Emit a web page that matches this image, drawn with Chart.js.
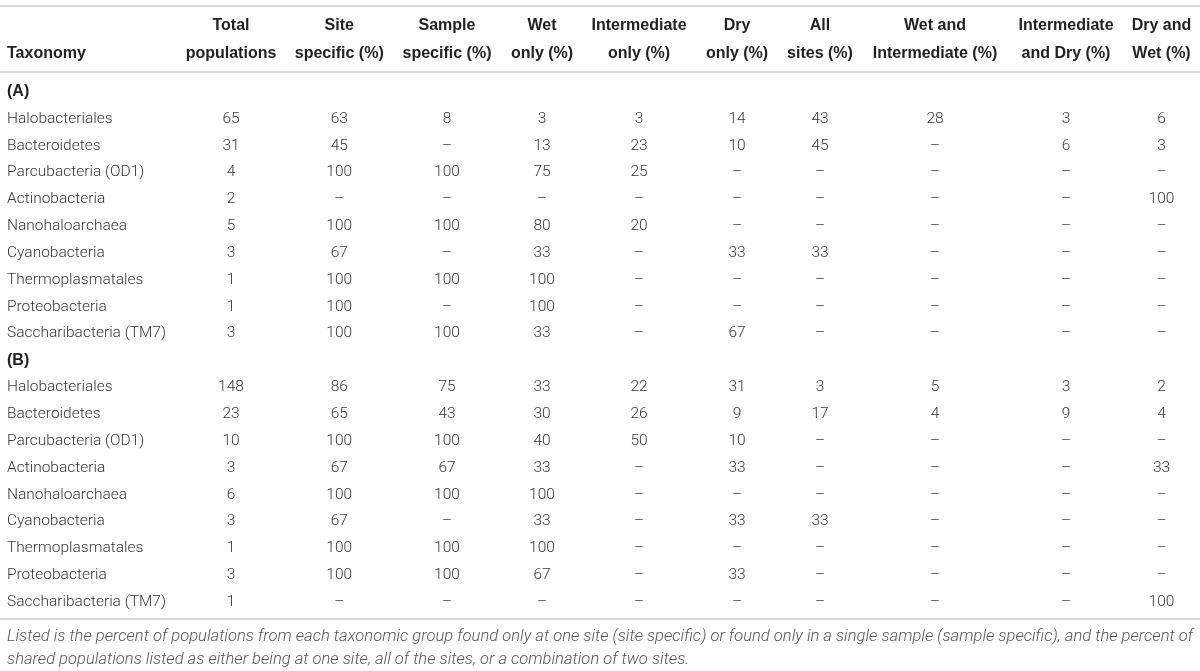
<!DOCTYPE html>
<html>
<head>
<meta charset="utf-8">
<style>
  html, body { margin: 0; padding: 0; background: #fff; }
  .wrap { position: relative; width: 1200px; height: 671px; }
</style>
</head>
<body>
<div class="wrap"><canvas id="tbl"></canvas></div>
<script src="https://cdn.jsdelivr.net/npm/chart.js"></script>
<script>
  // table content
  const groups = ['(A)', '(B)'];
  const taxa = ['Halobacteriales', 'Bacteroidetes', 'Parcubacteria (OD1)', 'Actinobacteria',
    'Nanohaloarchaea', 'Cyanobacteria', 'Thermoplasmatales', 'Proteobacteria', 'Saccharibacteria (TM7)'];
  const headers = [
    ['', 'Taxonomy'], ['Total', 'populations'], ['Site', 'specific (%)'], ['Sample', 'specific (%)'],
    ['Wet', 'only (%)'], ['Intermediate', 'only (%)'], ['Dry', 'only (%)'], ['All', 'sites (%)'],
    ['Wet and', 'Intermediate (%)'], ['Intermediate', 'and Dry (%)'], ['Dry and', 'Wet (%)']
  ];
  // null = "–"
  const totalA   = [65, 31, 4, 2, 5, 3, 1, 1, 3];
  const siteA    = [63, 45, 100, null, 100, 67, 100, 100, 100];
  const sampleA  = [8, null, 100, null, 100, null, 100, null, 100];
  const wetA     = [3, 13, 75, null, 80, 33, 100, 100, 33];
  const interA   = [3, 23, 25, null, 20, null, null, null, null];
  const dryA     = [14, 10, null, null, null, 33, null, null, 67];
  const allA     = [43, 45, null, null, null, 33, null, null, null];
  const wetIntA  = [28, null, null, null, null, null, null, null, null];
  const intDryA  = [3, 6, null, null, null, null, null, null, null];
  const dryWetA  = [6, 3, null, 100, null, null, null, null, null];

  const totalB   = [148, 23, 10, 3, 6, 3, 1, 3, 1];
  const siteB    = [86, 65, 100, 67, 100, 67, 100, 100, null];
  const sampleB  = [75, 43, 100, 67, 100, null, 100, 100, null];
  const wetB     = [33, 30, 40, 33, 100, 33, 100, 67, null];
  const interB   = [22, 26, 50, null, null, null, null, null, null];
  const dryB     = [31, 9, 10, 33, null, 33, null, 33, null];
  const allB     = [3, 17, null, null, null, 33, null, null, null];
  const wetIntB  = [5, 4, null, null, null, null, null, null, null];
  const intDryB  = [3, 9, null, null, null, null, null, null, null];
  const dryWetB  = [2, 4, null, 33, null, null, null, null, 100];

  const captionLines = [
    'Listed is the percent of populations from each taxonomic group found only at one site (site specific) or found only in a single sample (sample specific), and the percent of',
    'shared populations listed as either being at one site, all of the sites, or a combination of two sites.'
  ];

  const colsA = [totalA, siteA, sampleA, wetA, interA, dryA, allA, wetIntA, intDryA, dryWetA];
  const colsB = [totalB, siteB, sampleB, wetB, interB, dryB, allB, wetIntB, intDryB, dryWetB];

  // layout
  const colWidths = [176.5, 109, 107.5, 108, 82, 112, 84, 82, 148, 114, 77];
  const colLeft = [];
  colWidths.reduce((acc, w) => { colLeft.push(acc); return acc + w; }, 0);
  const colCenter = colLeft.map((l, i) => l + colWidths[i] / 2);
  const tableWidth = colWidths.reduce((a, b) => a + b, 0);

  const bodyFont = '300 15.5px Roboto';
  const boldFont = 'bold 16px "Liberation Sans"';
  const textColor = '#363636';
  const lineColor = '#d9d9d9';

  // rows: group label then taxa
  const rows = [];
  groups.forEach((g, gi) => {
    rows.push({ label: g, group: true });
    taxa.forEach((t, ti) => rows.push({ label: t, gi: gi, ti: ti }));
  });

  const datasets = colsA.map((colA, c) => {
    const pts = [];
    rows.forEach((r, i) => {
      if (r.group) return;
      const src = r.gi === 0 ? colsA[c] : colsB[c];
      pts.push({ x: colCenter[c + 1], y: i, v: src[r.ti] });
    });
    return { label: headers[c + 1].join(' '), data: pts, pointRadius: 0, showLine: false };
  });

  const tablePlugin = {
    id: 'tableText',
    afterDatasetsDraw(chart) {
      const ctx = chart.ctx;
      const xs = chart.scales.x, ys = chart.scales.y;
      ctx.save();
      ctx.textBaseline = 'middle';

      // rules
      ctx.strokeStyle = lineColor;
      ctx.lineWidth = 2;
      [-3.2, -0.745, 19.63].forEach(v => {
        const y = Math.round(ys.getPixelForValue(v));
        ctx.beginPath();
        ctx.moveTo(xs.getPixelForValue(0), y);
        ctx.lineTo(xs.getPixelForValue(tableWidth), y);
        ctx.stroke();
      });

      // header
      ctx.font = boldFont;
      ctx.fillStyle = '#222';
      headers.forEach((h, c) => {
        ctx.textAlign = c === 0 ? 'left' : 'center';
        const x = c === 0 ? xs.getPixelForValue(colLeft[0] + 7) : xs.getPixelForValue(colCenter[c]);
        if (h[0]) ctx.fillText(h[0], x, ys.getPixelForValue(-2.46));
        ctx.fillText(h[1], x, ys.getPixelForValue(-1.45));
      });

      // row labels
      rows.forEach((r, i) => {
        ctx.textAlign = 'left';
        ctx.font = r.group ? boldFont : bodyFont;
        ctx.fillStyle = r.group ? '#222' : textColor;
        ctx.fillText(r.label, xs.getPixelForValue(colLeft[0] + 7), ys.getPixelForValue(i));
      });

      // cells from dataset elements
      ctx.font = bodyFont;
      ctx.fillStyle = textColor;
      ctx.textAlign = 'center';
      chart.data.datasets.forEach((ds, di) => {
        const meta = chart.getDatasetMeta(di);
        meta.data.forEach((el, k) => {
          const v = ds.data[k].v;
          ctx.fillText(v === null ? '\u2013' : String(v), el.x, el.y);
        });
      });

      // caption
      const target = tableWidth - 14;
      ctx.textAlign = 'left';
      let size = 15;
      ctx.font = 'italic 300 ' + size + 'px Roboto';
      const w = ctx.measureText(captionLines[0]).width;
      size = size * target / w;
      ctx.font = 'italic 300 ' + size.toFixed(2) + 'px Roboto';
      ctx.fillStyle = '#555';
      captionLines.forEach((line, i) => {
        ctx.fillText(line, xs.getPixelForValue(7), ys.getPixelForValue(20.3 + i * 0.86));
      });
      ctx.restore();
    }
  };

  new Chart(document.getElementById('tbl'), {
    type: 'scatter',
    data: { datasets: datasets },
    plugins: [tablePlugin],
    options: {
      responsive: true,
      maintainAspectRatio: false,
      animation: false,
      layout: { padding: 0 },
      scales: {
        x: { type: 'linear', min: 0, max: tableWidth, display: false },
        y: { type: 'linear', min: -3.43, max: 21.57, reverse: true, display: false }
      },
      plugins: {
        legend: { display: false },
        tooltip: { enabled: false }
      }
    }
  });
</script>
</body>
</html>
